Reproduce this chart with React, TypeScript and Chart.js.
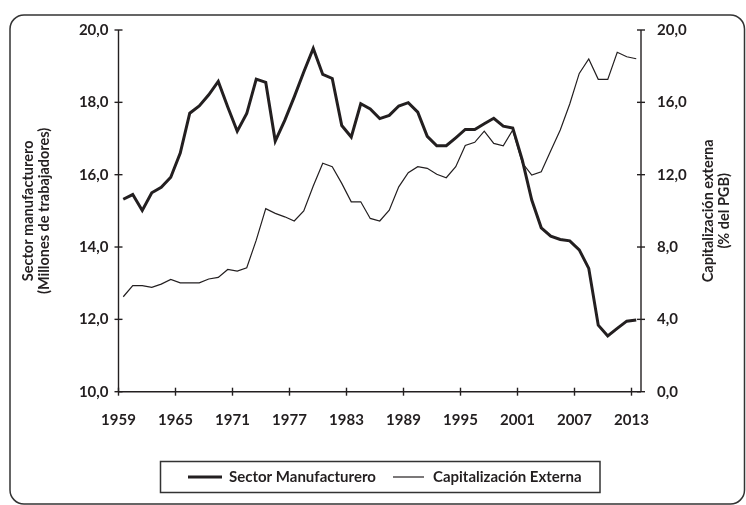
import React, { useEffect, useRef } from 'react';
import { Chart, registerables } from 'chart.js';

Chart.register(...registerables);

const YEARS = [
  1959, 1960, 1961, 1962, 1963, 1964, 1965, 1966, 1967, 1968,
  1969, 1970, 1971, 1972, 1973, 1974, 1975, 1976, 1977, 1978,
  1979, 1980, 1981, 1982, 1983, 1984, 1985, 1986, 1987, 1988,
  1989, 1990, 1991, 1992, 1993, 1994, 1995, 1996, 1997, 1998,
  1999, 2000, 2001, 2002, 2003, 2004, 2005, 2006, 2007, 2008,
  2009, 2010, 2011, 2012, 2013,
];

// Sector manufacturero (millones de trabajadores) - left axis
const MANUFACTURING = [
  15.32, 15.45, 15.01, 15.5, 15.65, 15.93, 16.6, 17.7, 17.9, 18.21,
  18.58, 17.87, 17.2, 17.69, 18.64, 18.55, 16.93, 17.5, 18.15, 18.84,
  19.49, 18.77, 18.66, 17.36, 17.04, 17.96, 17.82, 17.55, 17.64, 17.9,
  17.99, 17.73, 17.06, 16.8, 16.8, 17.02, 17.25, 17.25, 17.41, 17.56,
  17.34, 17.29, 16.41, 15.3, 14.53, 14.3, 14.21, 14.17, 13.92, 13.41,
  11.84, 11.54, 11.75, 11.95, 11.98,
];

// Capitalización externa (% del PGB) - right axis
const CAPITALIZATION = [
  5.25, 5.86, 5.86, 5.77, 5.95, 6.21, 6.02, 6.02, 6.02, 6.23,
  6.32, 6.76, 6.67, 6.85, 8.38, 10.12, 9.86, 9.67, 9.44, 10.0,
  11.37, 12.63, 12.44, 11.52, 10.5, 10.5, 9.58, 9.44, 10.04, 11.33,
  12.11, 12.44, 12.35, 12.02, 11.83, 12.44, 13.62, 13.79, 14.41, 13.73,
  13.6, 14.47, 12.66, 11.98, 12.16, 13.32, 14.47, 15.91, 17.6, 18.4,
  17.27, 17.27, 18.77, 18.52, 18.41,
];

const X_TICK_YEARS = [1959, 1965, 1971, 1977, 1983, 1989, 1995, 2001, 2007, 2013];
const LEFT_TICKS = [10, 12, 14, 16, 18, 20];
const RIGHT_TICKS = [0, 4, 8, 12, 16, 20];

const SERIES_NAMES = ['Sector Manufacturero', 'Capitalización Externa'];
const LEFT_TITLE = ['Sector manufacturero', '(Millones de trabajadores)'];
const RIGHT_TITLE = ['Capitalización externa', '(% del PGB)'];

const INK = '#231f20';
const FONT_FAMILY = 'Lato, "Open Sans", sans-serif';

const fmtComma = (v: number) => Number(v).toFixed(1).replace('.', ',');

const decorPlugin = {
  id: 'decor',
  beforeDraw(chart: any) {
    const ctx = chart.ctx;
    ctx.save();
    ctx.fillStyle = '#ffffff';
    ctx.fillRect(0, 0, chart.width, chart.height);
    ctx.restore();
  },
  afterDraw(chart: any) {
    const ctx: CanvasRenderingContext2D = chart.ctx;
    const area = chart.chartArea;
    const xs = chart.scales.x;
    const ys = chart.scales.y;
    const ys1 = chart.scales.y1;
    ctx.save();
    ctx.strokeStyle = INK;
    ctx.lineWidth = 1.4;
    const line = (x1: number, y1: number, x2: number, y2: number) => {
      ctx.beginPath();
      ctx.moveTo(x1, y1);
      ctx.lineTo(x2, y2);
      ctx.stroke();
    };
    // axes
    line(area.left, area.top, area.left, area.bottom);
    line(area.right, area.top, area.right, area.bottom);
    line(area.left, area.bottom, area.right, area.bottom);
    // tick marks (crossing)
    LEFT_TICKS.forEach((v) => {
      const py = ys.getPixelForValue(v);
      line(area.left - 4, py, area.left + 4, py);
    });
    RIGHT_TICKS.forEach((v) => {
      const py = ys1.getPixelForValue(v);
      line(area.right - 4, py, area.right + 4, py);
    });
    X_TICK_YEARS.forEach((v) => {
      const px = xs.getPixelForValue(v);
      line(px, area.bottom - 4, px, area.bottom + 4);
    });

    // outer rounded frame
    ctx.lineWidth = 1.5;
    ctx.strokeStyle = '#333333';
    ctx.beginPath();
    (ctx as any).roundRect(10, 15, 734.5, 489, 14);
    ctx.stroke();

    // axis titles
    ctx.fillStyle = INK;
    ctx.font = `bold 14.5px ${FONT_FAMILY}`;
    ctx.textAlign = 'center';
    ctx.textBaseline = 'middle';
    const cy = (area.top + area.bottom) / 2;
    const drawVert = (text: string, x: number) => {
      ctx.save();
      ctx.translate(x, cy);
      ctx.rotate(-Math.PI / 2);
      ctx.fillText(text, 0, 0);
      ctx.restore();
    };
    drawVert(LEFT_TITLE[0], 28);
    drawVert(LEFT_TITLE[1], 44);
    drawVert(RIGHT_TITLE[0], 708);
    drawVert(RIGHT_TITLE[1], 724);

    // legend
    ctx.lineWidth = 1.5;
    ctx.strokeStyle = '#333333';
    ctx.strokeRect(160.5, 461.5, 439.5, 31);
    const ly = 477;
    ctx.strokeStyle = INK;
    ctx.lineWidth = 3;
    line(188, ly, 222, ly);
    ctx.lineWidth = 1.2;
    line(393, ly, 424, ly);
    ctx.font = `bold 15px ${FONT_FAMILY}`;
    ctx.textAlign = 'left';
    ctx.fillText(SERIES_NAMES[0], 229, ly);
    ctx.fillText(SERIES_NAMES[1], 433, ly);
    ctx.restore();
  },
};

export default function App() {
  const canvasRef = useRef<HTMLCanvasElement | null>(null);

  useEffect(() => {
    document.body.style.margin = '0';
    const canvas = canvasRef.current;
    if (!canvas) return;
    const tickFont = { family: FONT_FAMILY, size: 15, weight: 'bold' as const };
    const chart = new Chart(canvas, {
      type: 'line',
      data: {
        datasets: [
          {
            label: SERIES_NAMES[0],
            data: YEARS.map((yr, i) => ({ x: yr + 0.5, y: MANUFACTURING[i] })),
            borderColor: INK,
            borderWidth: 3,
            pointRadius: 0,
            tension: 0,
            fill: false,
            yAxisID: 'y',
          },
          {
            label: SERIES_NAMES[1],
            data: YEARS.map((yr, i) => ({ x: yr + 0.5, y: CAPITALIZATION[i] })),
            borderColor: INK,
            borderWidth: 1.2,
            pointRadius: 0,
            tension: 0,
            fill: false,
            yAxisID: 'y1',
          },
        ],
      },
      options: {
        animation: false,
        responsive: false,
        maintainAspectRatio: false,
        layout: { padding: { top: 30, left: 0, right: 0, bottom: 0 } },
        plugins: {
          legend: { display: false },
          tooltip: { enabled: false },
        },
        scales: {
          x: {
            type: 'linear',
            min: YEARS[0],
            max: YEARS[YEARS.length - 1] + 1,
            grid: { display: false, drawTicks: false },
            border: { display: false },
            afterBuildTicks: (s: any) => {
              s.ticks = X_TICK_YEARS.map((v) => ({ value: v }));
            },
            afterFit: (s: any) => {
              s.height = 113.3;
            },
            ticks: {
              padding: 19,
              autoSkip: false,
              maxRotation: 0,
              color: INK,
              font: tickFont,
              callback: (v: any) => String(v),
            },
          },
          y: {
            position: 'left',
            min: 10,
            max: 20,
            grid: { display: false, drawTicks: false },
            border: { display: false },
            afterBuildTicks: (s: any) => {
              s.ticks = LEFT_TICKS.map((v) => ({ value: v }));
            },
            afterFit: (s: any) => {
              s.width = 118.5;
            },
            ticks: {
              padding: 10,
              color: INK,
              font: tickFont,
              callback: (v: any) => fmtComma(v),
            },
          },
          y1: {
            position: 'right',
            min: 0,
            max: 20,
            grid: { display: false, drawTicks: false },
            border: { display: false },
            afterBuildTicks: (s: any) => {
              s.ticks = RIGHT_TICKS.map((v) => ({ value: v }));
            },
            afterFit: (s: any) => {
              s.width = 105;
            },
            ticks: {
              padding: 16,
              color: INK,
              font: tickFont,
              callback: (v: any) => fmtComma(v),
            },
          },
        },
      },
      plugins: [decorPlugin],
    });
    return () => chart.destroy();
  }, []);

  return (
    <div style={{ width: 746, height: 505, position: 'relative' }}>
      <canvas ref={canvasRef} width={746} height={505} style={{ display: 'block' }} />
    </div>
  );
}
